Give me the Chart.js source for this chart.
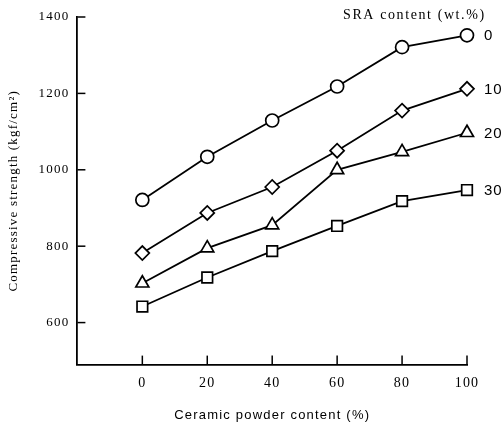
<!DOCTYPE html>
<html><head><meta charset="utf-8">
<script src="https://cdn.jsdelivr.net/npm/chart.js@4/dist/chart.umd.min.js"></script>
<style>html,body{margin:0;padding:0;background:#fff;}canvas{display:block;}</style>
</head><body>
<canvas id="c" width="502" height="428"></canvas>
<script>
const ceramicContent = [0, 20, 40, 60, 80, 100];
const sraLevels = ['0', '10', '20', '30'];
const sra0 = [921, 1034, 1129, 1218, 1321, 1352];
const sra10 = [782, 887, 955, 1050, 1155, 1212];
const sra20 = [703, 795, 855, 1000, 1047, 1097];
const sra30 = [642, 718, 787, 853, 918, 947];
const yTicks = [600, 800, 1000, 1200, 1400];
const xTicks = [0, 20, 40, 60, 80, 100];
const markerStyles = ['circle', 'rectRot', 'triangle', 'rect'];
const markerSizes = [6.5, 7, 7.5, 7.5];
const seriesValues = [sra0, sra10, sra20, sra30];

const datasets = seriesValues.map((vals, i) => ({
  label: sraLevels[i],
  data: vals.map((v, j) => ({x: ceramicContent[j], y: v})),
  borderColor: '#000',
  borderWidth: 1.8,
  backgroundColor: '#fff',
  pointStyle: markerStyles[i],
  pointRadius: markerSizes[i],
  pointBorderWidth: 1.7,
  pointBackgroundColor: '#fff',
  pointBorderColor: '#000',
  tension: 0,
  clip: false
}));

const spacing = {
  id: 'spacing',
  beforeUpdate(chart) { chart.ctx.letterSpacing = '1.2px'; },
  beforeDraw(chart) { chart.ctx.letterSpacing = '1.2px'; }
};

const decor = {
  id: 'decor',
  afterDatasetsDraw(chart) {
    const ctx = chart.ctx;
    const xs = chart.scales.x, ys = chart.scales.y;
    ctx.save();
    ctx.strokeStyle = '#000';
    ctx.lineWidth = 1.5;
    xTicks.forEach(v => {
      const px = xs.getPixelForValue(v);
      ctx.beginPath(); ctx.moveTo(px, ys.bottom); ctx.lineTo(px, ys.bottom - 9); ctx.stroke();
    });
    yTicks.forEach(v => {
      const py = ys.getPixelForValue(v);
      ctx.beginPath(); ctx.moveTo(xs.left, py); ctx.lineTo(xs.left + 8, py); ctx.stroke();
    });
    ctx.fillStyle = '#000';
    ctx.letterSpacing = '1px';
    ctx.font = '15px "Liberation Sans", Arial, sans-serif';
    ctx.textBaseline = 'middle';
    ctx.textAlign = 'left';
    chart.data.datasets.forEach((ds, i) => {
      const meta = chart.getDatasetMeta(i);
      const last = meta.data[meta.data.length - 1];
      ctx.fillText(ds.label, last.x + 17, last.y + 1);
    });
    ctx.letterSpacing = '1.6px';
    ctx.font = '14px "Liberation Serif", "DejaVu Serif", serif';
    ctx.textAlign = 'left';
    ctx.fillText('SRA content (wt.%)', 343, 15);
    ctx.restore();
  }
};

new Chart(document.getElementById('c'), {
  type: 'line',
  data: { datasets },
  options: {
    responsive: false,
    animation: false,
    layout: { padding: { left: 6, right: 35, top: 17, bottom: 5 } },
    plugins: { legend: { display: false }, tooltip: { enabled: false } },
    scales: {
      x: {
        type: 'linear', min: -20, max: 100,
        afterBuildTicks: s => { s.ticks = xTicks.map(v => ({value: v})); },
        border: { display: true, color: '#000', width: 1.8 },
        grid: { display: false, drawTicks: false },
        ticks: { color: '#000', padding: 10, font: { family: '"Liberation Serif", serif', size: 14 },
                 callback: v => String(v) },
        title: { display: true, text: 'Ceramic powder content (%)', color: '#000', padding: { top: 6, bottom: 0 },
                 font: { family: '"Liberation Sans", Arial, sans-serif', size: 13 } }
      },
      y: {
        min: 490, max: 1400,
        afterBuildTicks: s => { s.ticks = yTicks.map(v => ({value: v})); },
        border: { display: true, color: '#000', width: 1.8 },
        grid: { display: false, drawTicks: false },
        ticks: { color: '#000', padding: 8, font: { family: '"Liberation Serif", serif', size: 13 },
                 callback: v => String(v) },
        title: { display: true, text: 'Compressive strength (kgf/cm²)', color: '#000', padding: { top: 0, bottom: 9 },
                 font: { family: '"Liberation Serif", serif', size: 13 } }
      }
    }
  },
  plugins: [spacing, decor]
});
</script>
</body></html>
